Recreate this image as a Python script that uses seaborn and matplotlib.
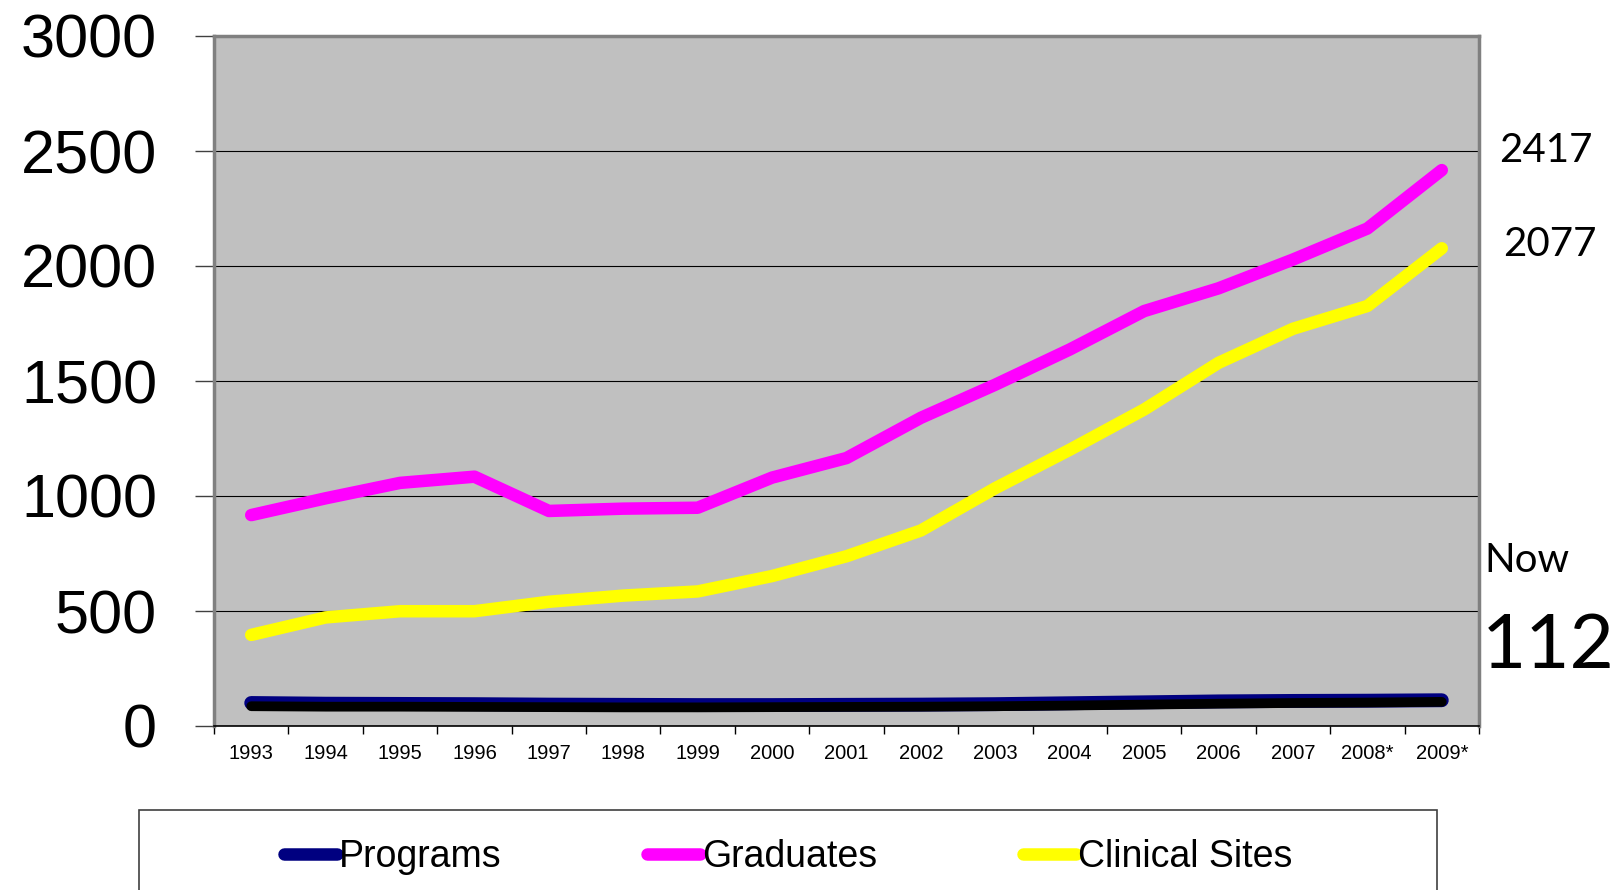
import pandas as pd
import numpy as np
import matplotlib
matplotlib.use("Agg")
import matplotlib.pyplot as plt
import seaborn as sns
from matplotlib.patches import Rectangle

# Data
years = ['1993', '1994', '1995', '1996', '1997', '1998', '1999', '2000', '2001',
         '2002', '2003', '2004', '2005', '2006', '2007', '2008*', '2009*']
programs = [100, 97, 96, 95, 93, 92, 91, 91, 92, 93, 95, 99, 103, 107, 109, 110, 112]
programs_shadow = [86, 84, 84, 83, 82, 81, 81, 82, 83, 84, 86, 89, 93, 97, 100, 102, 105]
graduates = [917, 990, 1057, 1084, 935, 945, 949, 1080, 1165, 1340, 1484, 1637,
             1804, 1903, 2028, 2163, 2417]
clinical_sites = [396, 472, 499, 499, 540, 567, 585, 652, 738, 850, 1034, 1201,
                  1376, 1579, 1727, 1826, 2077]
series_names = ['Programs', 'Graduates', 'Clinical Sites']
series_colors = ['#000080', '#FF00FF', '#FFFF00']

df = pd.DataFrame({'Year': years * 3,
                   'Value': programs + graduates + clinical_sites,
                   'Series': np.repeat(series_names, len(years))})
df_shadow = pd.DataFrame({'Year': years, 'Value': programs_shadow})

sns.set_style("white")
plt.rcParams['font.family'] = ['Liberation Sans', 'DejaVu Sans']
plt.rcParams['text.color'] = 'black'
plt.rcParams['xtick.color'] = 'black'
plt.rcParams['ytick.color'] = 'black'

W, H = 1621, 890
fig = plt.figure(figsize=(W / 100, H / 100), dpi=100)
ax = fig.add_axes([214 / W, (H - 726) / H, 1265 / W, 690 / H])
ax.set_facecolor('#C0C0C0')

lw = 9
sns.lineplot(data=df[df['Series'] == 'Programs'], x='Year', y='Value', color=series_colors[0],
             linewidth=lw + 1, sort=False, solid_capstyle='round', ax=ax, zorder=3)
sns.lineplot(data=df_shadow, x='Year', y='Value', color='black',
             linewidth=lw - 2, sort=False, solid_capstyle='round', ax=ax, zorder=4)
sns.lineplot(data=df[df['Series'] == 'Graduates'], x='Year', y='Value', color=series_colors[1],
             linewidth=lw, sort=False, solid_capstyle='round', ax=ax, zorder=5)
sns.lineplot(data=df[df['Series'] == 'Clinical Sites'], x='Year', y='Value', color=series_colors[2],
             linewidth=lw, sort=False, solid_capstyle='round', ax=ax, zorder=6)

ax.set_xlim(-0.5, len(years) - 0.5)
ax.set_ylim(0, 3000)
ax.set_yticks(range(0, 3001, 500))
ax.set_xlabel('')
ax.set_ylabel('')

# gridlines
ax.yaxis.grid(True, color='black', linewidth=0.8)
ax.xaxis.grid(False)
ax.set_axisbelow(True)

# spines
for side in ['left', 'top', 'right']:
    ax.spines[side].set_color('#808080')
    ax.spines[side].set_linewidth(2.5)
ax.spines['bottom'].set_color('black')
ax.spines['bottom'].set_linewidth(1.2)

# ticks
ax.tick_params(axis='y', which='major', left=True, length=14, width=1, color='#404040',
               labelcolor='black', labelsize=44, pad=27)
ax.set_xticks(range(len(years)))
ax.set_xticklabels(years)
ax.set_xticks(np.arange(-0.5, len(years), 1), minor=True)
ax.tick_params(axis='x', which='major', length=0, labelsize=14.5, pad=13, labelcolor='black')
ax.tick_params(axis='x', which='minor', bottom=True, length=6, width=1, color='black')

# annotations on the right
ann_font = ['Lato', 'DejaVu Sans']
fig.text(1546 / W, 1 - 150 / H, '2417', ha='center', va='center', fontsize=29, family=ann_font)
fig.text(1550 / W, 1 - 244 / H, '2077', ha='center', va='center', fontsize=29, family=ann_font)
fig.text(1484 / W, 1 - 561 / H, 'Now', ha='left', va='center', fontsize=29, family=ann_font)
fig.text(1482 / W, 1 - 647 / H, '112', ha='left', va='center', fontsize=55, family=ann_font)

# legend box (clipped at bottom of figure)
fig.patches.append(Rectangle((139 / W, -0.05), (1437 - 139) / W, (H - 810) / H + 0.05,
                             transform=fig.transFigure, facecolor='white',
                             edgecolor='#404040', linewidth=1.2))
handles = [plt.Line2D([], [], color=c, linewidth=lw, solid_capstyle='round') for c in series_colors]
fig.legend(handles, series_names, loc='center', bbox_to_anchor=(788 / W, 1 - 857 / H),
           ncol=3, frameon=False, fontsize=27, handlelength=1.4, handletextpad=0.05,
           columnspacing=3.9)

plt.savefig('out.png', dpi=100)
